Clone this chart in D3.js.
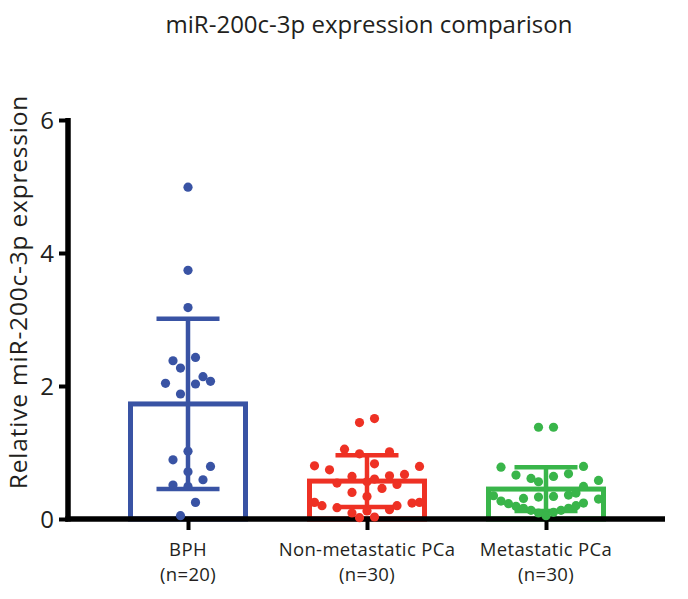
<!DOCTYPE html>
<html>
<head>
<meta charset="utf-8">
<script src="https://cdn.jsdelivr.net/npm/d3@7"></script>
<style>
  html, body { margin: 0; padding: 0; background: #fff; }
  svg { display: block; }
  text { font-family: "Open Sans", "Noto Sans", sans-serif; fill: #231f20; }
</style>
</head>
<body>
<svg id="chart" width="688" height="599"></svg>
<script>
// ---- data ----
const categories = ["BPH", "Non-metastatic PCa", "Metastatic PCa"];
const sampleLabels = ["(n=20)", "(n=30)", "(n=30)"];
const colors = ["#3953a4", "#ee3124", "#39b54a"];
const means = [1.73, 0.57, 0.45];
const sds = [1.28, 0.39, 0.33];
const yTicks = [0, 2, 4, 6];

const bphValues = [4.99, 3.74, 3.18, 2.43, 2.38, 2.27, 2.14, 2.07, 2.04, 2.03, 1.88, 1.02, 0.89, 0.79, 0.71, 0.59, 0.51, 0.49, 0.25, 0.05];
const bphJitter = [0, 0, 0, 1, -2, -1, 2, 3, -3, 1, -1, 0, -2, 3, 0, 2, -2, 0, 1, -1];

const nonMetValues = [1.45, 1.51, 1.05, 0.98, 1.01, 0.83, 0.80, 0.74, 0.79, 0.64, 0.65, 0.67, 0.54, 0.56, 0.52, 0.46, 0.40, 0.34, 0.25, 0.20, 0.17, 0.20, 0.24, 0.25, 0.14, 0.09, 0.02, 0.03, 0.12, 0.60];
const nonMetJitter = [-1, 1, -3, -1, 3, 1, -7, -5, 7, -2, 3, 5, -4, 0, 4, 2, -2, 0, -7, -6, -4, 4, 6, 7, 3, -2, -1, 1, 0, 1];

const metValues = [1.38, 1.38, 0.78, 0.79, 0.66, 0.61, 0.56, 0.64, 0.68, 0.58, 0.49, 0.35, 0.31, 0.33, 0.34, 0.36, 0.39, 0.27, 0.23, 0.19, 0.16, 0.13, 0.09, 0.05, 0.10, 0.13, 0.16, 0.20, 0.24, 0.30];
const metJitter = [-1, 1, -6, 5, -4, -2, -1, 1, 3, 7, 5, -7, -3, -1, 1, 3, 4, -6, -5, -4, -3, -2, -1, 0, 1, 2, 3, 4, 5, 7];

const groupValues = [bphValues, nonMetValues, metValues];
const groupJitter = [bphJitter, nonMetJitter, metJitter];

// ---- layout ----
const svg = d3.select("#chart");
const axisLeft = 68, axisRight = 665, plotTop = 120, plotBottom = 519;

const y = d3.scaleLinear().domain([0, 6]).range([plotBottom, plotTop]);
const x = d3.scalePoint().domain(categories).range([98.5, 635.5]).padding(0.5);
const barWidth = 115;
const capWidth = 63;
const jitter = d3.scaleLinear().domain([-1, 1]).range([-7.5, 7.5]);

svg.append("rect").attr("width", 688).attr("height", 599).attr("fill", "#fff");

// title
svg.append("text")
  .attr("x", 369).attr("y", 33)
  .attr("text-anchor", "middle")
  .style("font-size", "24px")
  .text("miR-200c-3p expression comparison");

// y label
svg.append("text")
  .attr("transform", "translate(27,292) rotate(-90)")
  .attr("text-anchor", "middle")
  .style("font-size", "24.5px")
  .style("letter-spacing", "0.8px")
  .text("Relative miR-200c-3p expression");

// bars
const g = svg.append("g");
categories.forEach((c, i) => {
  g.append("rect")
    .attr("x", x(c) - barWidth / 2)
    .attr("y", y(means[i]))
    .attr("width", barWidth)
    .attr("height", y(0) - y(means[i]))
    .attr("fill", "none")
    .attr("stroke", colors[i])
    .attr("stroke-width", 5);
  // error bar
  const lo = Math.max(0, means[i] - sds[i]), hi = means[i] + sds[i];
  g.append("line")
    .attr("x1", x(c)).attr("x2", x(c))
    .attr("y1", y(lo)).attr("y2", y(hi))
    .attr("stroke", colors[i]).attr("stroke-width", 4.5);
  [lo, hi].forEach(v => {
    g.append("line")
      .attr("x1", x(c) - capWidth / 2).attr("x2", x(c) + capWidth / 2)
      .attr("y1", y(v)).attr("y2", y(v))
      .attr("stroke", colors[i]).attr("stroke-width", 4.5);
  });
});

// axes
const yAxis = svg.append("g")
  .attr("transform", `translate(${axisLeft},0)`)
  .call(d3.axisLeft(y).tickValues(yTicks).tickFormat(d3.format("d")).tickSize(9).tickPadding(5).tickSizeOuter(0));
yAxis.attr("font-size", null).attr("font-family", null);
yAxis.select(".domain").attr("stroke", "#000").attr("stroke-width", 5.5)
  .attr("d", `M0,${plotTop - 2}V${plotBottom + 2.5}`);
yAxis.selectAll(".tick line").attr("stroke", "#000").attr("stroke-width", 4);
yAxis.selectAll(".tick text")
  .style("font-size", "24px")
  .attr("fill", "#231f20").attr("dy", "0.36em");

const xAxis = svg.append("g")
  .attr("transform", `translate(0,${plotBottom})`)
  .call(d3.axisBottom(x).tickSize(11).tickSizeOuter(0).tickFormat(""));
xAxis.select(".domain").attr("stroke", "#000").attr("stroke-width", 5.5)
  .attr("d", `M${axisLeft - 2.75},0H${axisRight}`);
xAxis.selectAll(".tick line").attr("stroke", "#000").attr("stroke-width", 4);

// x labels (two lines)
categories.forEach((c, i) => {
  svg.append("text")
    .attr("x", x(c)).attr("y", 556)
    .attr("text-anchor", "middle")
    .style("font-size", "18.5px")
    .style("letter-spacing", "0.35px")
    .text(c);
  svg.append("text")
    .attr("x", x(c)).attr("y", 581)
    .attr("text-anchor", "middle")
    .style("font-size", "18.5px")
    .style("letter-spacing", "0.35px")
    .text(sampleLabels[i]);
});

// dots
categories.forEach((c, i) => {
  svg.append("g").selectAll("circle")
    .data(groupValues[i].map((v, k) => ({ v, j: groupJitter[i][k] })))
    .join("circle")
    .attr("cx", d => x(c) + jitter(d.j))
    .attr("cy", d => y(d.v))
    .attr("r", 4.6)
    .attr("fill", colors[i]);
});
</script>
</body>
</html>
